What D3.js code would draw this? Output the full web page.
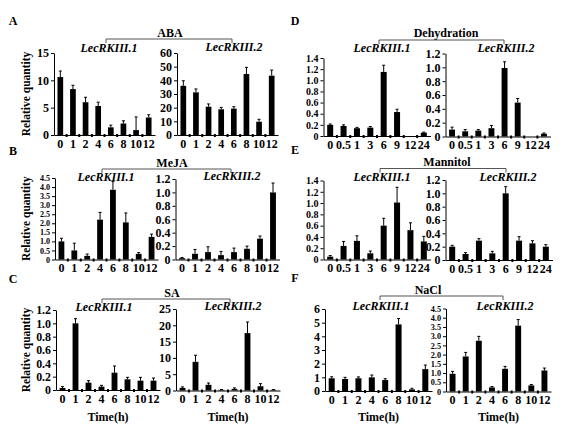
<!DOCTYPE html>
<html><head><meta charset="utf-8">
<script src="https://cdn.jsdelivr.net/npm/d3@7"></script>
<style>
body{margin:0;background:#fff;}
svg text{font-family:"Liberation Serif","Times New Roman",serif;font-weight:bold;fill:#000;}
</style></head>
<body><svg id="c" width="576" height="443"></svg>
<script>
// ---- categories ----
const timesH = ["0","1","2","4","6","8","10","12"];
const timesDM = ["0","0.5","1","3","6","9","12","24"];
// ---- series values (mean) and error (+SD) ----
const abaRK1 = [10.6, 8.4, 6.0, 5.3, 1.4, 2.1, 0.9, 3.2];
const abaRK1Err = [1.1, 0.7, 0.9, 0.7, 0.4, 0.5, 2.4, 0.5];
const abaRK2 = [36, 31.2, 20.7, 18.8, 19.3, 44.6, 9.7, 43.4];
const abaRK2Err = [3.7, 2.5, 2.0, 1.4, 1.4, 4.9, 1.8, 4.1];
const mejaRK1 = [1.0, 0.5, 0.2, 2.2, 3.85, 2.05, 0.31, 1.25];
const mejaRK1Err = [0.17, 0.4, 0.1, 0.4, 0.45, 0.52, 0.07, 0.15];
const mejaRK2 = [0.02, 0.085, 0.11, 0.065, 0.11, 0.16, 0.31, 1.0];
const mejaRK2Err = [0.01, 0.065, 0.08, 0.055, 0.06, 0.04, 0.04, 0.14];
const saRK1 = [0.03, 1.0, 0.11, 0.05, 0.26, 0.16, 0.14, 0.14];
const saRK1Err = [0.02, 0.07, 0.03, 0.02, 0.1, 0.03, 0.05, 0.04];
const saRK2 = [0.8, 8.8, 1.75, 0.2, 0.5, 17.6, 1.3, 0.2];
const saRK2Err = [0.3, 2.0, 0.55, 0.1, 0.3, 3.4, 0.8, 0.1];
const dehRK1 = [0.2, 0.18, 0.14, 0.15, 1.15, 0.43, 0, 0.06];
const dehRK1Err = [0.015, 0.02, 0.015, 0.02, 0.12, 0.05, 0, 0.01];
const dehRK2 = [0.1, 0.075, 0.085, 0.12, 0.99, 0.49, 0, 0.04];
const dehRK2Err = [0.035, 0.025, 0.015, 0.04, 0.09, 0.06, 0, 0.01];
const manRK1 = [0.05, 0.24, 0.33, 0.11, 0.6, 1.01, 0.52, 0.32];
const manRK1Err = [0.02, 0.08, 0.09, 0.04, 0.13, 0.27, 0.13, 0.09];
const manRK2 = [0.2, 0.09, 0.29, 0.1, 1.0, 0.29, 0.25, 0.2];
const manRK2Err = [0.02, 0.02, 0.03, 0.03, 0.1, 0.06, 0.04, 0.03];
const naclRK1 = [0.93, 0.88, 0.93, 1.0, 0.8, 4.87, 0.12, 1.6];
const naclRK1Err = [0.11, 0.12, 0.1, 0.17, 0.1, 0.43, 0.08, 0.3];
const naclRK2 = [0.96, 1.9, 2.75, 0.22, 1.23, 3.57, 0.33, 1.14];
const naclRK2Err = [0.13, 0.22, 0.24, 0.05, 0.13, 0.33, 0.05, 0.13];
// ---- tick labels ----
const ticksABA1 = [0, 5, 10, 15];
const ticksABA2 = [0, 10, 20, 30, 40, 50, 60];
const ticksMeJA1 = [0, 0.5, 1.0, 1.5, 2.0, 2.5, 3.0, 3.5, 4.0, 4.5];
const ticksMeJA2 = [0, 0.2, 0.4, 0.6, 0.8, 1.0, 1.2];
const ticksSA1 = [0, 0.2, 0.4, 0.6, 0.8, 1.0, 1.2];
const ticksSA2 = [0, 5, 10, 15, 20, 25];
const ticksDeh1 = [0, 0.2, 0.4, 0.6, 0.8, 1.0, 1.2, 1.4];
const ticksDeh2 = [0, 0.2, 0.4, 0.6, 0.8, 1.0, 1.2];
const ticksMan1 = [0, 0.2, 0.4, 0.6, 0.8, 1.0, 1.2, 1.4];
const ticksMan2 = [0, 0.2, 0.4, 0.6, 0.8, 1.0, 1.2];
const ticksNaCl1 = [0, 1, 2, 3, 4, 5, 6];
const ticksNaCl2 = [0, 0.5, 1.0, 1.5, 2.0, 2.5, 3.0, 3.5, 4.0, 4.5];
const geneNames = ["LecRKIII.1", "LecRKIII.2"];
const treatments = ["ABA", "MeJA", "SA", "Dehydration", "Mannitol", "NaCl"];
const panelLetters = ["A", "B", "C", "D", "E", "F"];

// ---- layout (positions only) ----
const panels = [
  {letter:[13,25], title:[170,37], br:[106,232,39], times:timesH,
   subs:[{v:abaRK1,e:abaRK1Err,t:ticksABA1,x0:54,w:101,top:53,bot:135,lab:[109,52]},
         {v:abaRK2,e:abaRK2Err,t:ticksABA2,x0:177,w:101,top:53,bot:135,lab:[234,51]}], ylab:true, xlab:false},
  {letter:[13,155], title:[172,167], br:[102,231,169], times:timesH,
   subs:[{v:mejaRK1,e:mejaRK1Err,t:ticksMeJA1,x0:55,w:103,top:178,bot:259.5,lab:[106,181]},
         {v:mejaRK2,e:mejaRK2Err,t:ticksMeJA2,x0:175.5,w:104,top:179,bot:259.5,lab:[232,180]}], ylab:true, xlab:false},
  {letter:[13,283], title:[172,297], br:[102,230,299], times:timesH,
   subs:[{v:saRK1,e:saRK1Err,t:ticksSA1,x0:56,w:104,top:310,bot:390,lab:[104,311]},
         {v:saRK2,e:saRK2Err,t:ticksSA2,x0:176,w:104,top:309,bot:390.5,lab:[233,310]}], ylab:true, xlab:true},
  {letter:[295,25], title:[446,37], br:[379,504,40], times:timesDM,
   subs:[{v:dehRK1,e:dehRK1Err,t:ticksDeh1,x0:323.5,w:107,top:58,bot:136,lab:[382,52]},
         {v:dehRK2,e:dehRK2Err,t:ticksDeh2,x0:445.5,w:105,top:53.5,bot:136.5,lab:[506,52]}], ylab:false, xlab:false},
  {letter:[295,154], title:[447,166], br:[380,506,168.5], times:timesDM,
   subs:[{v:manRK1,e:manRK1Err,t:ticksMan1,x0:323.5,w:107,top:180.5,bot:259.5,lab:[382,181]},
         {v:manRK2,e:manRK2Err,t:ticksMan2,x0:445.5,w:107,top:180,bot:260,lab:[508,181]}], ylab:false, xlab:false},
  {letter:[295,282], title:[428,294], br:[380,503,296], times:timesH,
   subs:[{v:naclRK1,e:naclRK1Err,t:ticksNaCl1,x0:325,w:107,top:309,bot:391,lab:[381,310]},
         {v:naclRK2,e:naclRK2Err,t:ticksNaCl2,x0:446,w:105,top:308.5,bot:391.5,lab:[505,310]}], ylab:false, xlab:true}
];

const svg = d3.select("#c");
const fs = 12;

panels.forEach((p, pi) => {
  const g = svg.append("g");
  g.append("text").attr("x", p.letter[0]).attr("y", p.letter[1]).attr("text-anchor","middle")
    .attr("font-size", fs).text(panelLetters[pi]);
  // bracket
  const [bx1, bx2, by] = p.br;
  g.append("path").attr("d", `M${bx1},${by+4}V${by}H${bx2}V${by+4}`)
    .attr("fill","none").attr("stroke","#555").attr("stroke-width",1);
  g.append("text").attr("x", p.title[0]).attr("y", p.title[1]).attr("text-anchor","middle")
    .attr("font-size", fs).text(treatments[pi]);

  p.subs.forEach((s, si) => {
    const x = d3.scaleBand().domain(p.times).range([s.x0, s.x0 + s.w]).paddingInner(0.55).paddingOuter(0.275);
    const y = d3.scaleLinear().domain([0, s.t[s.t.length-1]]).range([s.bot, s.top]);
    const frac = s.t.some(t => t % 1 !== 0);
    const fmt = d => d === 0 ? "0" : (frac ? d3.format(".1f")(d) : String(d));
    const tickGap = (s.bot - s.top) / (s.t.length - 1);
    const yfs = Math.min(fs, tickGap / 1.12);
    const sg = g.append("g");
    // y axis
    const ya = sg.append("g").attr("transform", `translate(${s.x0},0)`)
      .call(d3.axisLeft(y).tickValues(s.t).tickSize(3).tickSizeOuter(0).tickPadding(2).tickFormat(fmt));
    ya.selectAll("text").attr("font-size", yfs).attr("font-family",'"Liberation Serif",serif').attr("font-weight","bold");
    ya.select(".domain").attr("stroke","#000");
    // x axis
    const xa = sg.append("g").attr("transform", `translate(0,${s.bot})`)
      .call(d3.axisBottom(x).tickSize(0).tickSizeOuter(0).tickPadding(4));
    xa.selectAll("text").attr("font-size", fs).attr("font-family",'"Liberation Serif",serif').attr("font-weight","bold");
    xa.select(".domain").attr("stroke","#000");
    // boundary tick marks
    const step = x.step();
    sg.selectAll(".bt").data(p.times.slice(1)).enter().append("line")
      .attr("x1", d => x(d) - (step - x.bandwidth())/2).attr("x2", d => x(d) - (step - x.bandwidth())/2)
      .attr("y1", s.bot - 1).attr("y2", s.bot + 2).attr("stroke","#000").attr("stroke-width",2);
    // bars
    sg.selectAll(".bar").data(s.v).enter().append("rect")
      .attr("x", (d,i) => x(p.times[i])).attr("width", x.bandwidth())
      .attr("y", d => y(d)).attr("height", d => s.bot - y(d)).attr("fill","#000");
    // error bars
    sg.selectAll(".err").data(s.v.map((d,i)=>({d,i}))).enter().filter(o => s.e[o.i] > 0)
      .append("path")
      .attr("d", o => {
        const cx = x(p.times[o.i]) + x.bandwidth()/2;
        const yt = y(o.d + s.e[o.i]);
        return `M${cx},${y(o.d)}V${yt}M${cx-1.5},${yt}H${cx+1.5}`;
      })
      .attr("stroke","#000").attr("stroke-width",1).attr("fill","none");
    // gene label
    sg.append("text").attr("x", s.lab[0]).attr("y", s.lab[1]).attr("text-anchor","middle")
      .attr("font-size", fs).attr("font-style","italic").text(geneNames[si]);
    if (p.xlab) {
      sg.append("text").attr("x", s.x0 + s.w/2).attr("y", 421).attr("text-anchor","middle")
        .attr("font-size", fs).text("Time(h)");
    }
  });
  if (p.ylab) {
    const s0 = p.subs[0];
    g.append("text").attr("transform", `translate(30,${(s0.top + s0.bot)/2}) rotate(-90)`)
      .attr("text-anchor","middle").attr("font-size", 11.5).text("Relative quantity");
  }
});
</script></body></html>
